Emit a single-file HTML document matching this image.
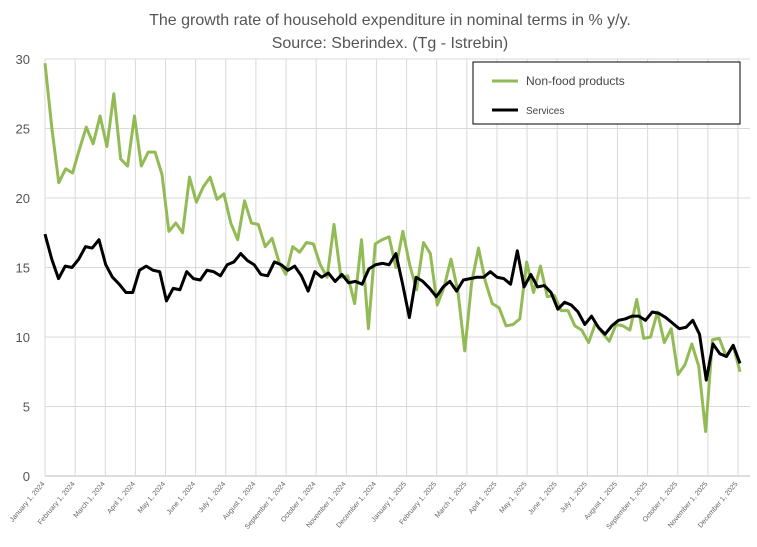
<!DOCTYPE html>
<html><head><meta charset="utf-8"><style>
body{margin:0;background:#fff;font-family:"Liberation Sans",sans-serif}
svg{display:block}
</style></head><body>
<svg id="c" width="757" height="547">
<text x="390" y="25" text-anchor="middle" font-size="16" fill="#555">The growth rate of household expenditure in nominal terms in % y/y.</text>
<text x="390" y="48" text-anchor="middle" font-size="16" fill="#555">Source: Sberindex. (Tg - Istrebin)</text>
<g id="grid"></g><g id="series"></g>
<g>
<rect x="473" y="62" width="267" height="62" fill="#fff" stroke="#000" stroke-width="1"/>
<line x1="492" y1="81" x2="518" y2="81" stroke="#93bb55" stroke-width="3"/>
<text x="526" y="85" font-size="12" fill="#444">Non-food products</text>
<line x1="492" y1="110" x2="518" y2="110" stroke="#000" stroke-width="3"/>
<text x="526" y="114" font-size="10" fill="#444">Services</text>
</g>
</svg>
<script>
const yTicks=[0,5,10,15,20,25,30];
const monthLabels=["January 1, 2024","February 1, 2024","March 1, 2024","April 1, 2024","May 1, 2024","June 1, 2024","July 1, 2024","August 1, 2024","September 1, 2024","October 1, 2024","November 1, 2024","December 1, 2024","January 1, 2025","February 1, 2025","March 1, 2025","April 1, 2025","May 1, 2025","June 1, 2025","July 1, 2025","August 1, 2025","September 1, 2025","October 1, 2025","November 1, 2025","December 1, 2025"];
const nonFood=[29.7,25,21.1,22.1,21.8,23.5,25.1,23.9,25.9,23.7,27.5,22.8,22.3,25.9,22.3,23.3,23.3,21.7,17.6,18.2,17.5,21.5,19.7,20.8,21.5,19.9,20.3,18.2,17.0,19.8,18.2,18.1,16.5,17.1,15.4,14.5,16.5,16.1,16.8,16.7,15.2,14.3,18.1,14.3,14.4,12.4,17.0,10.6,16.7,17.0,17.2,15.0,17.6,15.2,13.4,16.8,16.0,12.3,13.6,15.6,13.3,9.0,13.9,16.4,14.0,12.4,12.1,10.8,10.9,11.3,15.4,13.2,15.1,12.9,13.0,11.9,11.9,10.8,10.5,9.6,11.0,10.3,9.7,10.9,10.8,10.5,12.7,9.9,10.0,11.8,9.6,10.6,7.3,8.0,9.5,7.9,3.2,9.8,9.9,8.6,9.4,7.5];
const services=[17.4,15.6,14.2,15.1,15.0,15.6,16.5,16.4,17.0,15.2,14.3,13.8,13.2,13.2,14.8,15.1,14.8,14.7,12.6,13.5,13.4,14.7,14.2,14.1,14.8,14.7,14.4,15.2,15.4,16.0,15.5,15.2,14.5,14.4,15.4,15.2,14.8,15.1,14.4,13.3,14.7,14.3,14.6,14.0,14.5,13.9,14.0,13.8,14.9,15.2,15.3,15.2,16.0,13.8,11.4,14.3,14.0,13.5,12.9,13.6,14.0,13.3,14.1,14.2,14.3,14.3,14.7,14.3,14.2,13.8,16.2,13.6,14.5,13.6,13.7,13.2,12.0,12.5,12.3,11.8,10.9,11.5,10.7,10.2,10.8,11.2,11.3,11.5,11.5,11.2,11.8,11.7,11.4,11.0,10.6,10.7,11.2,10.2,6.9,9.5,8.8,8.6,9.4,8.1];
const L=45,R=740,T=59,B=476,NS="http://www.w3.org/2000/svg";
const y=v=>B-(v/30)*(B-T);
const xm=i=>L+i*(738-L)/(monthLabels.length-1);
const xs=(i,n)=>L+i*(R-L)/(n-1);
const grid=document.getElementById('grid'),ser=document.getElementById('series');
function mk(t,a,p){const e=document.createElementNS(NS,t);for(const k in a)e.setAttribute(k,a[k]);p.appendChild(e);return e;}
yTicks.forEach(v=>{
 const l=mk('line',{x1:L,x2:750,y1:y(v),y2:y(v),stroke:v===0?'#bbb':'#d9d9d9','stroke-width':1},grid);
 
 
 const t=mk('text',{x:30,y:y(v)+5,'text-anchor':'end','font-size':13,fill:'#555'},grid);
 t.textContent=v;
 
 
});
monthLabels.forEach((m,i)=>{
 const x=xm(i);
 const l=mk('line',{x1:x,x2:x,y1:T,y2:B,stroke:'#d9d9d9','stroke-width':1},grid);
 
 
 const t=mk('text',{x:x,y:B+8,'text-anchor':'end','font-size':7,fill:'#666',transform:`rotate(-50 ${x} ${B+8})`},grid);
 t.textContent=m;
 
 
});
function line(d,c,name){
 const p=mk('polyline',{points:d.map((v,i)=>xs(i,d.length)+','+y(v)).join(' '),fill:'none',stroke:c,'stroke-width':3,'stroke-linejoin':'round'},ser);
 
 
}
line(nonFood,'#93bb55','non-food-line');
line(services,'#000','services-line');
</script>
</body></html>
